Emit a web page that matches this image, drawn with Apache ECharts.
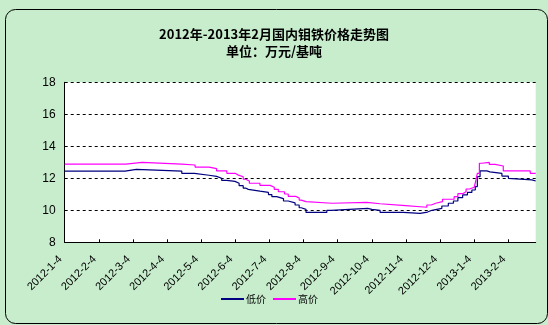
<!DOCTYPE html>
<html><head><meta charset="utf-8">
<script src="https://cdn.jsdelivr.net/npm/echarts@6/dist/echarts.min.js"></script>
<style>html,body{margin:0;padding:0;background:#C7EDCC;}#c{width:548px;height:325px;}</style>
</head><body><div id="c"></div>
<script>
// x values are in months since 2012-1-4 (category tick index)
var tickLabels = ['2012-1-4','2012-2-4','2012-3-4','2012-4-4','2012-5-4','2012-6-4','2012-7-4','2012-8-4','2012-9-4','2012-10-4','2012-11-4','2012-12-4','2013-1-4','2013-2-4'];
var xMax = 13.80;
var lowX  = [0,1.77,2.10,3.43,3.80,4.23,4.45,4.60,4.75,4.99,5.11,5.23,5.30,5.38,5.72,5.97,6.07,6.21,6.41,6.55,6.75,6.87,6.93,7.07,7.68,7.81,8.88,9.00,9.24,9.92,10.41,10.63,10.76,11.05,11.24,11.39,11.52,11.66,11.80,11.93,12.03,12.09,12.17,12.37,12.46,12.81,13.00,13.05,13.69,13.80];
var lowY  = [12.45,12.56,12.45,12.31,12.19,12.12,12.00,11.87,11.81,11.69,11.54,11.39,11.31,11.20,11.12,10.98,10.85,10.73,10.58,10.46,10.33,10.16,10.06,9.87,10.00,10.12,10.06,10.00,9.87,9.81,9.89,10.00,10.12,10.27,10.44,10.58,10.79,10.96,11.12,11.27,11.48,12.10,12.46,12.40,12.31,12.14,12.00,11.90,11.83,11.83];
var highX = [0,1.79,2.27,3.43,3.82,4.23,4.45,4.75,4.99,5.09,5.23,5.30,5.41,5.72,6.02,6.14,6.26,6.44,6.55,6.77,6.87,6.93,7.07,7.83,8.85,9.24,9.89,10.61,10.74,10.87,11.07,11.41,11.52,11.66,11.76,11.86,12.00,12.05,12.09,12.15,12.22,12.44,12.61,12.85,13.64,13.80];
var highY = [12.88,13.00,12.88,12.83,12.70,12.60,12.46,12.31,12.20,12.10,11.94,11.83,11.69,11.56,11.44,11.31,11.16,11.02,10.87,10.77,10.64,10.54,10.44,10.50,10.41,10.31,10.19,10.33,10.44,10.54,10.69,10.85,11.04,11.16,11.33,11.44,11.52,11.90,12.31,12.94,13.00,12.87,12.77,12.46,12.31,12.31];
var yTicks = [8,10,12,14,16,18];

function pairs(xs, ys){ return xs.map(function(x,i){ return [x, ys[i]]; }); }

var chart = echarts.init(document.getElementById('c'), null, {renderer:'canvas'});
chart.setOption({
  backgroundColor: '#C7EDCC',
  animation: false,
  title: {
    text: '2012年-2013年2月国内钼铁价格走势图\n单位：万元/基吨',
    left: 'center', top: 21,
    textStyle: {fontFamily: '"Noto Sans CJK SC", sans-serif', fontSize: 13, fontWeight: 'bold', color: '#000', lineHeight: 17}
  },
  graphic: [{
    type: 'rect', left: 3, top: 7,
    shape: {width: 542, height: 314, r: 10},
    style: {fill: 'none', stroke: '#000', lineWidth: 1}, silent: true
  }],
  legend: {
    left: 216, top: 289, itemGap: 7, itemWidth: 23, itemHeight: 2, icon: 'rect',
    textStyle: {fontFamily: '"Noto Sans CJK SC", sans-serif', fontSize: 10, color: '#000', padding: [0,0,0,-3]},
    data: ['低价','高价']
  },
  grid: {left: 64.7, right: 12.3, top: 82.3, bottom: 82.7, backgroundColor: '#fff', show: true, borderWidth: 0},
  xAxis: {
    type: 'value', min: 0, max: xMax, interval: 1,
    axisLine: {show: true, lineStyle: {color: '#000', width: 1}},
    axisTick: {show: true, inside: true, length: 3, lineStyle: {color: '#000'}},
    splitLine: {show: false},
    axisLabel: {
      rotate: 45, margin: 11, fontFamily: '"Liberation Sans", Arial, sans-serif', fontSize: 11, color: '#000',
      padding: [0, 6, 0, 0],
      showMaxLabel: false,
      formatter: function(v){ var i = Math.round(v); return (Math.abs(v-i) < 1e-6 && tickLabels[i]) ? tickLabels[i] : ''; }
    }
  },
  yAxis: {
    type: 'value', min: yTicks[0], max: yTicks[yTicks.length-1], interval: 2,
    axisLine: {show: true, lineStyle: {color: '#000', width: 1}},
    axisTick: {show: false},
    axisLabel: {margin: 9, fontFamily: '"Liberation Sans", Arial, sans-serif', fontSize: 12, color: '#000'},
    splitLine: {show: true, lineStyle: {color: '#000', type: [3,3], width: 1}}
  },
  series: [
    {name: '低价', type: 'line', step: 'end', data: pairs(lowX, lowY), showSymbol: false, lineStyle: {color: '#000080', width: 1.2}, itemStyle: {color: '#000080'}},
    {name: '高价', type: 'line', step: 'end', data: pairs(highX, highY), showSymbol: false, lineStyle: {color: '#FF00FF', width: 1.2}, itemStyle: {color: '#FF00FF'}}
  ]
});
</script></body></html>
